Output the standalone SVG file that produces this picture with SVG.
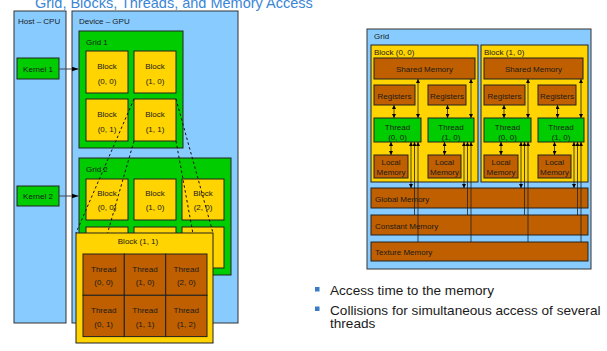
<svg xmlns="http://www.w3.org/2000/svg" width="607" height="351" viewBox="0 0 607 351">
<defs>
<style>
.t{font-family:"Liberation Sans",Arial,Helvetica,sans-serif;font-size:8px;fill:#1a1a1a}
.c{text-anchor:middle}
.blue{fill:#88ccff;stroke:#333;stroke-width:1}
.green{fill:#00cc00;stroke:#222;stroke-width:1}
.gold{fill:#ffd400;stroke:#222;stroke-width:1}
.brown{fill:#bf5f00;stroke:#222;stroke-width:1}
.ln{stroke:#222;stroke-width:0.8;fill:none}
.dash{stroke:#111;stroke-width:1;stroke-dasharray:2.5,2.5;fill:none}
.bul{font-family:"Liberation Sans",Arial,sans-serif;font-size:13.6px;fill:#1a1a1a}
</style>
<marker id="big" viewBox="0 0 7 5" refX="7" refY="2.5" markerWidth="7" markerHeight="5" markerUnits="userSpaceOnUse" orient="auto"><path d="M0,0 L7,2.5 L0,5 z" fill="#000"/></marker>
<marker id="ah" viewBox="0 0 4 4" refX="4" refY="2" markerWidth="4" markerHeight="4" markerUnits="userSpaceOnUse" orient="auto-start-reverse"><path d="M0,0 L4,2 L0,4 z" fill="#000"/></marker>
</defs>
<rect width="607" height="351" fill="#fff"/>
<text x="35" y="8" style="font-family:'Liberation Sans',Arial,sans-serif;font-size:14.5px;fill:#3a86d6">Grid, Blocks, Threads, and Memory Access</text>

<g id="host"><rect class="blue" x="14" y="11" width="52" height="312"/><text class="t" x="18" y="24">Host – CPU</text></g>
<g id="device"><rect class="blue" x="72" y="11" width="166" height="312"/><text class="t" x="79" y="24">Device – GPU</text></g>
<g id="kernel1"><rect class="green" x="17" y="58" width="42" height="21"/><text class="t c" x="38" y="72">Kernel 1</text></g>
<g id="kernel2"><rect class="green" x="17" y="186" width="42" height="20"/><text class="t c" x="38" y="198.5">Kernel 2</text></g>

<g id="grid1"><rect class="green" x="79" y="31" width="104" height="117"/><text class="t" x="86" y="45">Grid 1</text></g>
<g id="g1b00"><rect class="gold" x="86" y="51" width="42" height="42"/><text class="t c" x="107" y="69">Block</text><text class="t c" x="107" y="83.5">(0, 0)</text></g>
<g id="g1b10"><rect class="gold" x="134" y="51" width="42" height="42"/><text class="t c" x="155" y="69">Block</text><text class="t c" x="155" y="83.5">(1, 0)</text></g>
<g id="g1b01"><rect class="gold" x="86" y="99" width="42" height="42"/><text class="t c" x="107" y="117">Block</text><text class="t c" x="107" y="131.5">(0, 1)</text></g>
<g id="g1b11"><rect class="gold" x="134" y="99" width="42" height="42"/><text class="t c" x="155" y="117">Block</text><text class="t c" x="155" y="131.5">(1, 1)</text></g>

<g id="grid2"><rect class="green" x="79" y="158" width="152" height="117"/><text class="t" x="86" y="172">Grid 2</text></g>
<g id="g2b00"><rect class="gold" x="86" y="179" width="42" height="41"/><text class="t c" x="107" y="196">Block</text><text class="t c" x="107" y="210">(0, 0)</text></g>
<g id="g2b10"><rect class="gold" x="134" y="179" width="42" height="41"/><text class="t c" x="155" y="196">Block</text><text class="t c" x="155" y="210">(1, 0)</text></g>
<g id="g2b20"><rect class="gold" x="182" y="179" width="42" height="41"/><text class="t c" x="203" y="196">Block</text><text class="t c" x="203" y="210">(2, 0)</text></g>
<g id="g2b01"><rect class="gold" x="86" y="227" width="42" height="41"/></g>
<g id="g2b11"><rect class="gold" x="134" y="227" width="42" height="41"/></g>
<g id="g2b21"><rect class="gold" x="182" y="227" width="42" height="41"/></g>

<g id="rgrid"><rect class="blue" x="367" y="29" width="224" height="240"/><text class="t" x="374" y="39">Grid</text></g>
<g id="rb0"><rect class="gold" x="371" y="45" width="107" height="137"/><text class="t" x="374" y="55">Block (0, 0)</text></g>
<g id="rb1"><rect class="gold" x="481" y="45" width="107" height="137"/><text class="t" x="484" y="55">Block (1, 0)</text></g>
<g id="rb0shared"><rect class="brown" x="374" y="58" width="101" height="21"/><text class="t c" x="424.5" y="72">Shared Memory</text></g>
<g id="rb1shared"><rect class="brown" x="484" y="58" width="99" height="21"/><text class="t c" x="533.5" y="72">Shared Memory</text></g>
<g id="rb0reg0"><rect class="brown" x="374" y="85" width="41" height="20"/><text class="t c" x="394.5" y="98.5">Registers</text></g>
<g id="rb0reg1"><rect class="brown" x="428" y="85" width="38" height="20"/><text class="t c" x="447" y="98.5">Registers</text></g>
<g id="rb1reg0"><rect class="brown" x="484" y="85" width="41" height="20"/><text class="t c" x="504.5" y="98.5">Registers</text></g>
<g id="rb1reg1"><rect class="brown" x="538" y="85" width="38" height="20"/><text class="t c" x="557" y="98.5">Registers</text></g>
<g id="rb0th0"><rect class="green" x="374" y="118" width="47" height="24"/><text class="t c" x="397.5" y="129.5">Thread</text><text class="t c" x="397.5" y="139.5">(0, 0)</text></g>
<g id="rb0th1"><rect class="green" x="428" y="118" width="46" height="24"/><text class="t c" x="451" y="129.5">Thread</text><text class="t c" x="451" y="139.5">(1, 0)</text></g>
<g id="rb1th0"><rect class="green" x="484" y="118" width="47" height="24"/><text class="t c" x="507.5" y="129.5">Thread</text><text class="t c" x="507.5" y="139.5">(0, 0)</text></g>
<g id="rb1th1"><rect class="green" x="538" y="118" width="46" height="24"/><text class="t c" x="561" y="129.5">Thread</text><text class="t c" x="561" y="139.5">(1, 0)</text></g>
<g id="rb0loc0"><rect class="brown" x="374" y="155" width="34" height="23"/><text class="t c" x="391" y="165">Local</text><text class="t c" x="391" y="175">Memory</text></g>
<g id="rb0loc1"><rect class="brown" x="428" y="155" width="33" height="23"/><text class="t c" x="444.5" y="165">Local</text><text class="t c" x="444.5" y="175">Memory</text></g>
<g id="rb1loc0"><rect class="brown" x="484" y="155" width="34" height="23"/><text class="t c" x="501" y="165">Local</text><text class="t c" x="501" y="175">Memory</text></g>
<g id="rb1loc1"><rect class="brown" x="538" y="155" width="33" height="23"/><text class="t c" x="554.5" y="165">Local</text><text class="t c" x="554.5" y="175">Memory</text></g>
<g id="global"><rect class="brown" x="371" y="188" width="217" height="20"/><text class="t" x="375" y="201.5">Global Memory</text></g>
<g id="constant"><rect class="brown" x="371" y="215" width="217" height="20"/><text class="t" x="375" y="228.5">Constant Memory</text></g>
<g id="texture"><rect class="brown" x="371" y="242" width="217" height="19"/><text class="t" x="375" y="254.5">Texture Memory</text></g>

<g id="connectors">
<line x1="59" y1="69" x2="78.5" y2="69" stroke="#445" stroke-width="1" marker-end="url(#big)"/>
<line x1="59" y1="196" x2="78.5" y2="196" stroke="#445" stroke-width="1" marker-end="url(#big)"/>
<line class="dash" x1="134" y1="99" x2="76" y2="233"/>
<line class="dash" x1="134" y1="141" x2="76" y2="343"/>
<line class="dash" x1="176" y1="99" x2="213" y2="233"/>
<line class="dash" x1="176" y1="141" x2="213" y2="343"/>
<g id="rconn0">
<line class="ln" x1="394" y1="105" x2="394" y2="118" marker-start="url(#ah)" marker-end="url(#ah)"/>
<line class="ln" x1="447.5" y1="105" x2="447.5" y2="118" marker-start="url(#ah)" marker-end="url(#ah)"/>
<line class="ln" x1="391" y1="142" x2="391" y2="155" marker-start="url(#ah)" marker-end="url(#ah)"/>
<line class="ln" x1="444.5" y1="142" x2="444.5" y2="155" marker-start="url(#ah)" marker-end="url(#ah)"/>
<line class="ln" x1="418" y1="79" x2="418" y2="118" marker-start="url(#ah)" marker-end="url(#ah)"/>
<line class="ln" x1="471" y1="79" x2="471" y2="118" marker-start="url(#ah)" marker-end="url(#ah)"/>
<line class="ln" x1="411" y1="142" x2="411" y2="188" marker-start="url(#ah)" marker-end="url(#ah)"/>
<line class="ln" x1="414.5" y1="142" x2="414.5" y2="215" marker-start="url(#ah)"/>
<line class="ln" x1="418" y1="142" x2="418" y2="242" marker-start="url(#ah)"/>
<line class="ln" x1="464" y1="142" x2="464" y2="188" marker-start="url(#ah)" marker-end="url(#ah)"/>
<line class="ln" x1="467.5" y1="142" x2="467.5" y2="215" marker-start="url(#ah)"/>
<line class="ln" x1="471" y1="142" x2="471" y2="242" marker-start="url(#ah)"/>
</g>
<g id="rconn1" transform="translate(110,0)">
<line class="ln" x1="394" y1="105" x2="394" y2="118" marker-start="url(#ah)" marker-end="url(#ah)"/>
<line class="ln" x1="447.5" y1="105" x2="447.5" y2="118" marker-start="url(#ah)" marker-end="url(#ah)"/>
<line class="ln" x1="391" y1="142" x2="391" y2="155" marker-start="url(#ah)" marker-end="url(#ah)"/>
<line class="ln" x1="444.5" y1="142" x2="444.5" y2="155" marker-start="url(#ah)" marker-end="url(#ah)"/>
<line class="ln" x1="418" y1="79" x2="418" y2="118" marker-start="url(#ah)" marker-end="url(#ah)"/>
<line class="ln" x1="471" y1="79" x2="471" y2="118" marker-start="url(#ah)" marker-end="url(#ah)"/>
<line class="ln" x1="411" y1="142" x2="411" y2="188" marker-start="url(#ah)" marker-end="url(#ah)"/>
<line class="ln" x1="414.5" y1="142" x2="414.5" y2="215" marker-start="url(#ah)"/>
<line class="ln" x1="418" y1="142" x2="418" y2="242" marker-start="url(#ah)"/>
<line class="ln" x1="464" y1="142" x2="464" y2="188" marker-start="url(#ah)" marker-end="url(#ah)"/>
<line class="ln" x1="467.5" y1="142" x2="467.5" y2="215" marker-start="url(#ah)"/>
<line class="ln" x1="471" y1="142" x2="471" y2="242" marker-start="url(#ah)"/>
</g>
</g>

<g id="bigblock">
<rect class="gold" x="76" y="233" width="137" height="110"/>
<text class="t c" x="138" y="244">Block (1, 1)</text>
</g>
<g id="th00"><rect class="brown" x="83" y="254" width="41.3" height="41.3"/><text class="t c" x="103.7" y="272">Thread</text><text class="t c" x="103.7" y="285">(0, 0)</text></g>
<g id="th10"><rect class="brown" x="124.3" y="254" width="41.3" height="41.3"/><text class="t c" x="145" y="272">Thread</text><text class="t c" x="145" y="285">(1, 0)</text></g>
<g id="th20"><rect class="brown" x="165.7" y="254" width="41.3" height="41.3"/><text class="t c" x="186.3" y="272">Thread</text><text class="t c" x="186.3" y="285">(2, 0)</text></g>
<g id="th01"><rect class="brown" x="83" y="295.3" width="41.3" height="41.3"/><text class="t c" x="103.7" y="313">Thread</text><text class="t c" x="103.7" y="327">(0, 1)</text></g>
<g id="th11"><rect class="brown" x="124.3" y="295.3" width="41.3" height="41.3"/><text class="t c" x="145" y="313">Thread</text><text class="t c" x="145" y="327">(1, 1)</text></g>
<g id="th12"><rect class="brown" x="165.7" y="295.3" width="41.3" height="41.3"/><text class="t c" x="186.3" y="313">Thread</text><text class="t c" x="186.3" y="327">(1, 2)</text></g>

<g id="bullets">
<rect x="315" y="287" width="4.5" height="4.5" fill="#3a7cc4"/>
<text class="bul" x="330" y="295">Access time to the memory</text>
<rect x="315" y="306.5" width="4.5" height="4.5" fill="#3a7cc4"/>
<text class="bul" x="330" y="314.5">Collisions for simultaneous access of several<tspan x="330" dy="13">threads</tspan></text>
</g>
</svg>
